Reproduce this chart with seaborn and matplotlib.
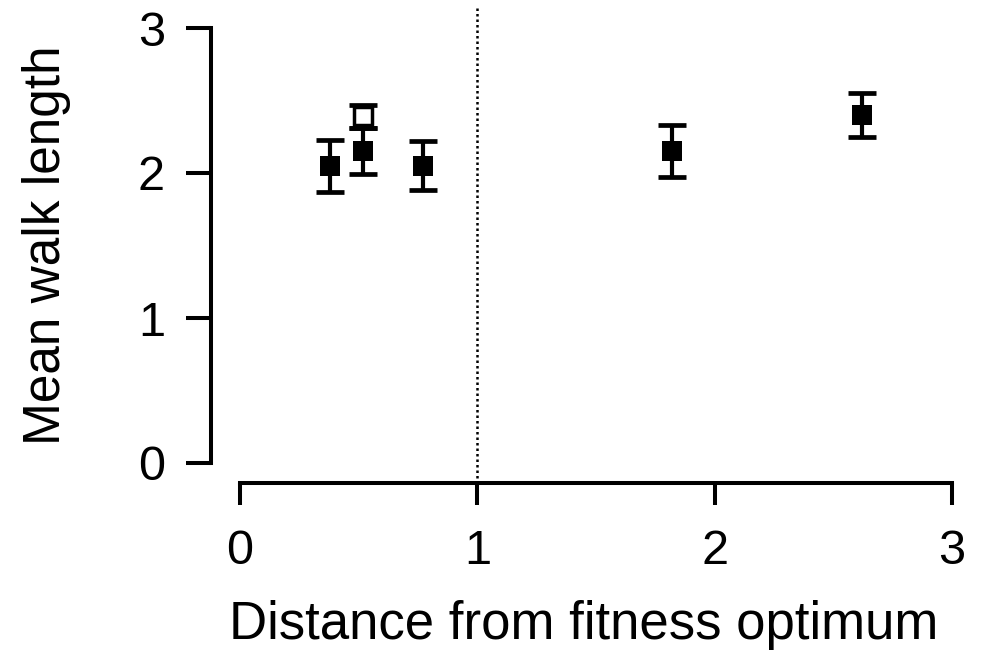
import matplotlib
matplotlib.use("Agg")
import matplotlib.pyplot as plt
import seaborn as sns
import pandas as pd

# Data
dist_filled = [0.38, 0.52, 0.77, 1.82, 2.62]
walk_filled = [2.05, 2.15, 2.05, 2.15, 2.40]
err_filled = [0.18, 0.16, 0.17, 0.18, 0.15]

dist_open = [0.52]
walk_open = [2.39]
err_open = [0.08]

x_ticks = [0, 1, 2, 3]
y_ticks = [0, 1, 2, 3]
threshold = 1.0

sns.set_style("ticks")
plt.rcParams['font.family'] = ['Liberation Sans', 'DejaVu Sans']
plt.rcParams['text.color'] = 'black'
plt.rcParams['axes.labelcolor'] = 'black'
plt.rcParams['axes.edgecolor'] = 'black'
plt.rcParams['xtick.color'] = 'black'
plt.rcParams['ytick.color'] = 'black'

fig = plt.figure(figsize=(9.86, 6.69), dpi=100)
ax = fig.add_axes([240/986, (669-463)/669, 712/986, 435/669])

df_f = pd.DataFrame({"d": dist_filled, "w": walk_filled})
df_o = pd.DataFrame({"d": dist_open, "w": walk_open})

ax.errorbar(dist_open, walk_open, yerr=err_open, fmt='none', ecolor='black',
            elinewidth=3, capsize=10, capthick=3.4, zorder=2)
sns.scatterplot(data=df_o, x="d", y="w", ax=ax, marker='s', s=170,
                facecolor='white', edgecolor='black', linewidth=2.5, zorder=3)
ax.errorbar(dist_filled, walk_filled, yerr=err_filled, fmt='none', ecolor='black',
            elinewidth=3, capsize=10, capthick=3.4, zorder=4)
sns.scatterplot(data=df_f, x="d", y="w", ax=ax, marker='s', s=200,
                color='black', edgecolor='black', linewidth=0, zorder=5)

ax.axvline(threshold, ymin=-0.034, ymax=1.046, color='black', linestyle=(0, (1, 1.2)),
           linewidth=1.8, clip_on=False, zorder=1)

ax.set_xlim(0, 3)
ax.set_ylim(0, 3)
ax.set_xticks(x_ticks)
ax.set_yticks(y_ticks)

for s in ['top', 'right']:
    ax.spines[s].set_visible(False)
ax.spines['left'].set_position(('outward', 21))
ax.spines['bottom'].set_position(('outward', 14.4))
ax.spines['left'].set_linewidth(2.9)
ax.spines['bottom'].set_linewidth(2.9)
ax.tick_params(axis='y', width=2.9, length=18, labelsize=35, pad=15)
ax.tick_params(axis='x', width=2.9, length=16, labelsize=35, pad=17)

ax.set_xlabel("Distance from fitness optimum", fontsize=38)
ax.set_ylabel("Mean walk length", fontsize=37)
ax.xaxis.set_label_coords(0.483, -0.315)
ax.yaxis.set_label_coords(-0.238, 0.5)

fig.savefig("out.png", dpi=100, facecolor='white')
